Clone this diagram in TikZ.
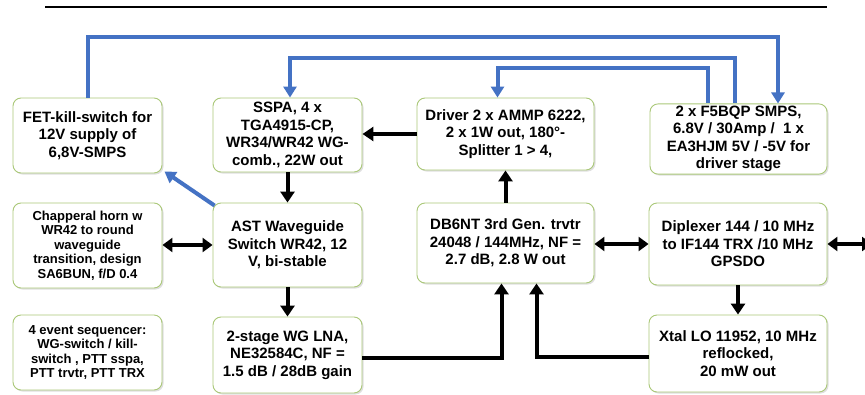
\documentclass[tikz,border=0pt]{standalone}
\usepackage{fontspec}
\setmainfont{Liberation Sans}
\usetikzlibrary{arrows.meta,shadows}
\definecolor{boxline}{RGB}{170,200,120}
\definecolor{linkblue}{RGB}{68,114,196}
\begin{document}
\begin{tikzpicture}[x=1pt,y=-1pt,
  blk/.style={draw=boxline, line width=0.9pt, fill=white, rounded corners=8pt,
    drop shadow={shadow xshift=1.5pt, shadow yshift=-1.5pt, opacity=0.25},
    align=center, inner sep=2pt, font=\bfseries\fontsize{15}{17.5}\selectfont},
  smallblk/.style={blk, font=\bfseries\fontsize{13}{14.5}\selectfont},
  bk/.style={line width=4pt, draw=black, -{Triangle[width=14pt,length=11pt]}},
  bkd/.style={line width=4pt, draw=black, {Triangle[width=14pt,length=10pt]}-{Triangle[width=14pt,length=10pt]}},
  bl/.style={line width=4pt, draw=linkblue, -{Triangle[width=13pt,length=11pt]}},
  bln/.style={line width=4pt, draw=linkblue}]
\useasboundingbox (0,0) rectangle (865,394);
\fill[white] (0,0) rectangle (865,394);

% top rule
\coordinate (tl) at (45,7);
\coordinate (tr) at (827,7);
\draw[line width=2.5pt] (tl) -- (tr);

% boxes
\node[blk, minimum width=149pt, minimum height=75pt] (fet) at (87.5,135.5) {FET-kill-switch for\\12V supply of\\6,8V-SMPS};
\node[blk, minimum width=149pt, minimum height=74pt] (sspa) at (287.5,135) {SSPA, 4 x\\TGA4915-CP,\\WR34/WR42 WG-\\comb., 22W out};
\node[blk, minimum width=177pt, minimum height=72pt] (drv) at (505.5,134) {Driver 2 x AMMP 6222,\\2 x 1W out, 180°-\\Splitter 1 > 4,};
\node[blk, minimum width=177pt, minimum height=68pt] (smps) at (738.5,139) {2 x F5BQP SMPS,\\6.8V / 30Amp /~~1 x\\EA3HJM 5V / -5V for\\driver stage};
\node[smallblk, minimum width=149pt, minimum height=85pt] (horn) at (87.5,245.5) {Chapperal horn w\\WR42 to round\\waveguide\\transition, design\\SA6BUN, f/D 0.4};
\node[blk, minimum width=149pt, minimum height=84pt] (ast) at (287.5,245) {AST Waveguide\\Switch WR42, 12\\V, bi-stable};
\node[smallblk, minimum width=149pt, minimum height=75pt] (seq) at (87.5,352.5) {4 event sequencer:\\WG-switch / kill-\\switch , PTT sspa,\\PTT trvtr, PTT TRX};
\node[blk, minimum width=149pt, minimum height=76pt] (lna) at (287.5,355) {2-stage WG LNA,\\NE32584C, NF =\\1.5 dB / 28dB gain};
\node[blk, minimum width=177pt, minimum height=80pt] (trv) at (505.5,243) {DB6NT 3rd Gen. trvtr\\24048 / 144MHz, NF =\\2.7 dB, 2.8 W out};
\node[blk, minimum width=178pt, minimum height=82pt] (dip) at (738,244) {Diplexer 144 / 10 MHz\\to IF144 TRX /10 MHz\\GPSDO};
\node[blk, minimum width=178pt, minimum height=77pt] (xtal) at (738,353.5) {Xtal LO 11952, 10 MHz\\reflocked,\\20 mW out};

% blue supply lines
\draw[bl] (fet.north) -- ++(0,-61) -| ([xshift=39.5pt]smps.north);
\draw[bl] ([xshift=-3.5pt]smps.north) -- ++(0,-45) -| ([xshift=2.5pt]sspa.north);
\draw[bl] ([xshift=-30.5pt]smps.north) -- ++(0,-35) -| ([xshift=-8pt]drv.north);
\draw[bl] ([xshift=2pt,yshift=-3pt]ast.north west) -- ([xshift=2pt,yshift=2pt]fet.south east);

% black signal lines
\draw[bk] (drv.west) -- (sspa.east |- drv.west);
\draw[bk] (sspa.south) -- (ast.north);
\draw[bkd] (horn.east |- ast.west) -- (ast.west);
\draw[bk] (ast.south) -- (lna.north);
\draw[bk] (trv.north) -- (trv.north |- drv.south);
\draw[bk] ([yshift=-3pt]lna.east) -| ([xshift=-4pt]trv.south);
\draw[bk] ([yshift=-3.5pt]xtal.west) -| ([xshift=31pt]trv.south);
\draw[bkd] (trv.east |- dip.west) -- (dip.west);
\coordinate (ifout) at (872,244);
\draw[bkd] (dip.east) -- (ifout);
\draw[bk] (dip.south) -- (xtal.north);
\end{tikzpicture}
\end{document}
